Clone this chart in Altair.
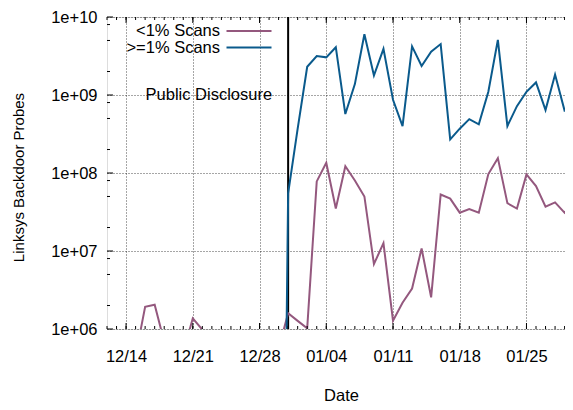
import altair as alt
import pandas as pd

# ---------------- data ----------------
start_day = "2013-12-12"
n_days = 50
dates = pd.date_range(start_day, periods=n_days, freq="D").strftime("%Y-%m-%dT00:00:00Z").tolist()

series_names = ["<1% Scans", ">=1% Scans"]
series_colors = ["#94587e", "#0a5a8c"]

low_scans = [3e5, 3e5, 3e5, 4.5e5, 1.93e6, 2.05e6, 6.9e5, 3e5, 5e5, 1.37e6,
             9.8e5, 3e5, 3e5, 3e5, 3e5, 3e5, 3e5, 3e5, 5.6e5, 1.59e6,
             1.27e6, 1.02e6, 7.8e7, 1.35e8, 3.5e7, 1.22e8, 8.0e7, 5.0e7, 6.8e6, 1.26e7,
             1.28e6, 2.17e6, 3.3e6, 1.08e7, 2.55e6, 5.3e7, 4.7e7, 3.1e7, 3.45e7, 3.1e7,
             9.7e7, 1.55e8, 4.1e7, 3.5e7, 9.6e7, 6.8e7, 3.7e7, 4.2e7, 3.1e7, 4.4e7]

high_scans = [None] * 18 + [1e-3, 5.5e7,
              3.7e8, 2.3e9, 3.16e9, 3.04e9, 4.1e9, 5.7e8, 1.38e9, 6.0e9, 1.78e9, 3.9e9,
              8.7e8, 4.0e8, 4.2e9, 2.35e9, 3.6e9, 4.5e9, 2.7e8, 3.7e8, 4.9e8, 4.2e8,
              1.1e9, 5.1e9, 4.0e8, 7.2e8, 1.1e9, 1.45e9, 6.4e8, 1.83e9, 6.3e8, 6.8e8]

disclosure_date = "2013-12-31T00:00:00Z"
disclosure_label = "Public Disclosure"

week_ticks = [(2013, 12, 14), (2013, 12, 21), (2013, 12, 28), (2014, 1, 4),
              (2014, 1, 11), (2014, 1, 18), (2014, 1, 25)]
y_major = [1e6, 1e7, 1e8, 1e9, 1e10]
y_minor = [m * 10 ** k for k in range(6, 10) for m in (2, 5, 8)]

# ---------------- tables ----------------
rows = []
for d, v in zip(dates, low_scans):
    rows.append({"date": d, "value": v, "series": series_names[0]})
for d, v in zip(dates, high_scans):
    if v is not None:
        rows.append({"date": d, "value": v, "series": series_names[1]})
df = pd.DataFrame(rows)

tick_days = pd.DataFrame({"date": dates[:-1]})
tick_weeks = pd.DataFrame({"date": ["%04d-%02d-%02dT00:00:00Z" % w for w in week_ticks]})
ymaj_df = pd.DataFrame({"value": y_major})
ymin_df = pd.DataFrame({"value": y_minor})
disc_df = pd.DataFrame({"date": [disclosure_date], "value": [1e9], "label": [disclosure_label]})

# ---------------- layout ----------------
W, H = 458, 312
FONT = "Liberation Sans"
FS = 16.5

xscale = alt.Scale(type="utc",
                   domain=[alt.DateTime(year=2013, month=12, date=12, utc=True),
                           alt.DateTime(year=2014, month=1, date=29, hours=1, utc=True)])
yscale = alt.Scale(type="log", domain=[1e6, 1e10])

xax = alt.Axis(values=[alt.DateTime(year=y, month=m, date=d, utc=True) for (y, m, d) in week_ticks],
               labelExpr="utcFormat(datum.value, '%m/%d')", title="Date",
               domain=False, ticks=False, grid=True,
               gridDash=[1, 2], gridColor="#000", gridOpacity=0.7, gridWidth=1,
               labelFont=FONT, labelFontSize=FS, labelColor="#000", labelPadding=19,
               labelBaseline="top",
               titleFont=FONT, titleFontSize=FS, titleFontWeight="normal", titleColor="#000",
               titleX=234, titleY=66, titleBaseline="middle", titleAlign="center")

yax = alt.Axis(values=y_major, title="Linksys Backdoor Probes",
               labelExpr="'1e+' + (round(log(datum.value)/LN10) < 10 ? '0' : '') + round(log(datum.value)/LN10)",
               domain=False, ticks=False, grid=True,
               gridDash=[1, 2], gridColor="#000", gridOpacity=0.7, gridWidth=1,
               labelFont=FONT, labelFontSize=FS, labelColor="#000", labelPadding=10,
               titleFont=FONT, titleFontSize=15, titleFontWeight="normal", titleColor="#000",
               titleX=-89, titleY=160, titleBaseline="middle", titleAlign="center")

X = lambda: alt.X("date:T", scale=xscale, axis=xax)
Y = lambda: alt.Y("value:Q", scale=yscale, axis=yax)
color_enc = lambda: alt.Color("series:N", scale=alt.Scale(domain=series_names, range=series_colors), legend=None)

disc_rule = alt.Chart(disc_df).mark_rule(color="#000", strokeWidth=2).encode(x=X())

lines = alt.Chart(df).mark_line(strokeWidth=2, clip=True).encode(
    x=X(), y=Y(), color=color_enc(), detail="series:N")

disc_text = alt.Chart(disc_df).mark_text(align="right", baseline="middle", dx=-16,
                                         font=FONT, fontSize=FS, color="#000").encode(
    x=X(), y=Y(), text="label:N")

# inward tick marks
rule = dict(color="#000", strokeWidth=1)
top_minor = alt.Chart(tick_days).mark_rule(**rule).encode(x=X(), y=alt.value(0), y2=alt.value(3))
bot_minor = alt.Chart(tick_days).mark_rule(**rule).encode(x=X(), y=alt.value(H), y2=alt.value(H - 3))
top_major = alt.Chart(tick_weeks).mark_rule(**rule).encode(x=X(), y=alt.value(0), y2=alt.value(6))
bot_major = alt.Chart(tick_weeks).mark_rule(**rule).encode(x=X(), y=alt.value(H), y2=alt.value(H - 6))
left_major = alt.Chart(ymaj_df).mark_rule(**rule).encode(y=Y(), x=alt.value(0), x2=alt.value(6))
left_minor = alt.Chart(ymin_df).mark_rule(**rule).encode(y=Y(), x=alt.value(0), x2=alt.value(3))

# legend (gnuplot style: text then line sample), one layer per row
legend_rows = [14, 30.5]
legend_layers = []
for name, ypos in zip(series_names, legend_rows):
    ldf = pd.DataFrame({"series": [name]})
    legend_layers.append(
        alt.Chart(ldf).mark_text(align="right", baseline="middle", font=FONT,
                                 fontSize=FS, color="#000").encode(
            x=alt.value(113), y=alt.value(ypos), text="series:N"))
    legend_layers.append(
        alt.Chart(ldf).mark_rule(strokeWidth=2).encode(
            x=alt.value(119.5), x2=alt.value(164.5), y=alt.value(ypos), color=color_enc()))

chart = alt.layer(
    disc_rule, lines, disc_text,
    top_minor, bot_minor, top_major, bot_major, left_major, left_minor,
    *legend_layers,
).properties(
    width=W, height=H,
    autosize=alt.AutoSizeParams(type="none"),
    padding={"left": 99, "top": 9, "right": 0, "bottom": 73},
).configure_view(stroke="#000", strokeWidth=1.5).configure(background="#ffffff")

chart.save("out.html", embed_options={"renderer": "svg", "actions": False})
